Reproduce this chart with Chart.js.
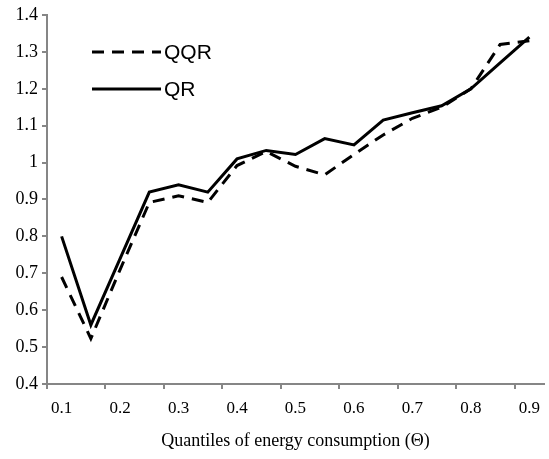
<!DOCTYPE html>
<html>
<head>
<meta charset="utf-8">
<script src="https://cdn.jsdelivr.net/npm/chart.js@4"></script>
<style>
  html, body { margin: 0; padding: 0; background: #fff; }
  #wrap { width: 549px; height: 459px; }
</style>
</head>
<body>
<div id="wrap"><canvas id="quantileChart"></canvas></div>
<script>
// Quantiles (every 0.05, labelled every 0.1)
const quantiles = ['0.1', '0.15', '0.2', '0.25', '0.3', '0.35', '0.4', '0.45', '0.5',
                   '0.55', '0.6', '0.65', '0.7', '0.75', '0.8', '0.85', '0.9'];
const qqrValues = [0.69, 0.523, 0.71, 0.892, 0.91, 0.892, 0.992, 1.03, 0.99,
                   0.967, 1.022, 1.075, 1.12, 1.15, 1.2, 1.32, 1.33];
const qrValues = [0.80, 0.56, 0.74, 0.92, 0.94, 0.92, 1.01, 1.033, 1.022,
                  1.065, 1.048, 1.115, 1.135, 1.154, 1.2, 1.27, 1.34];
const yTicks = [0.4, 0.5, 0.6, 0.7, 0.8, 0.9, 1, 1.1, 1.2, 1.3, 1.4];

const axisGray = '#868686';

// Legend drawn inside the plot, top-left
const insideLegend = {
    id: 'insideLegend',
    afterDraw(chart) {
        const ctx = chart.ctx;
        const rows = [{ y: 52 }, { y: 89 }];
        chart.data.datasets.forEach((ds, i) => {
            const y = rows[i].y;
            ctx.save();
            ctx.strokeStyle = ds.borderColor;
            ctx.lineWidth = ds.borderWidth;
            ctx.setLineDash(ds.borderDash || []);
            ctx.beginPath();
            ctx.moveTo(92, y);
            ctx.lineTo(161, y);
            ctx.stroke();
            ctx.setLineDash([]);
            ctx.fillStyle = '#000';
            ctx.font = '21px "Liberation Sans", Arial, sans-serif';
            ctx.textBaseline = 'middle';
            ctx.textAlign = 'left';
            ctx.fillText(ds.label, 164, y + 1);
            ctx.restore();
        });
    }
};

const ctx = document.getElementById('quantileChart').getContext('2d');
new Chart(ctx, {
    type: 'line',
    data: {
        labels: quantiles,
        datasets: [{
            label: 'QQR',
            data: qqrValues,
            borderColor: '#000',
            borderWidth: 3,
            borderDash: [12, 8],
            pointRadius: 0,
            tension: 0,
            fill: false
        }, {
            label: 'QR',
            data: qrValues,
            borderColor: '#000',
            borderWidth: 3,
            pointRadius: 0,
            tension: 0,
            fill: false
        }]
    },
    options: {
        responsive: true,
        maintainAspectRatio: false,
        animation: false,
        layout: { padding: { top: 15, right: 1, left: 0, bottom: 0 } },
        plugins: {
            legend: { display: false },
            tooltip: { enabled: false }
        },
        scales: {
            x: {
                type: 'category',
                offset: true,
                afterFit: s => { s.height = 75; },
                border: { display: true, color: axisGray, width: 2 },
                grid: {
                    offset: true,
                    drawOnChartArea: false,
                    drawTicks: true,
                    tickLength: 5,
                    color: c => (c.index % 2 === 0 ? axisGray : 'rgba(0,0,0,0)'),
                    tickColor: c => (c.index % 2 === 0 ? axisGray : 'rgba(0,0,0,0)'),
                    lineWidth: 2
                },
                ticks: {
                    autoSkip: false,
                    maxRotation: 0,
                    padding: 9,
                    color: '#000',
                    font: { family: '"Liberation Serif", "Times New Roman", serif', size: 17 },
                    callback: function(val, i) { return i % 2 === 0 ? this.getLabelForValue(val) : ''; }
                },
                title: {
                    display: true,
                    text: 'Quantiles of energy consumption (\u0398)',
                    color: '#000',
                    font: { family: '"Liberation Serif", "Times New Roman", serif', size: 18 },
                    padding: { top: 0, bottom: 7 }
                }
            },
            y: {
                min: 0.4,
                max: 1.4,
                afterFit: s => { s.width = 47; },
                afterBuildTicks: s => { s.ticks = yTicks.map(v => ({ value: v })); },
                border: { display: true, color: axisGray, width: 2 },
                grid: {
                    drawOnChartArea: false,
                    drawTicks: true,
                    tickLength: 5,
                    color: axisGray,
                    lineWidth: 2
                },
                ticks: {
                    padding: 4,
                    color: '#000',
                    font: { family: '"Liberation Serif", "Times New Roman", serif', size: 18 },
                    callback: v => String(Number(v.toFixed(1)))
                }
            }
        }
    },
    plugins: [insideLegend]
});
</script>
</body>
</html>
